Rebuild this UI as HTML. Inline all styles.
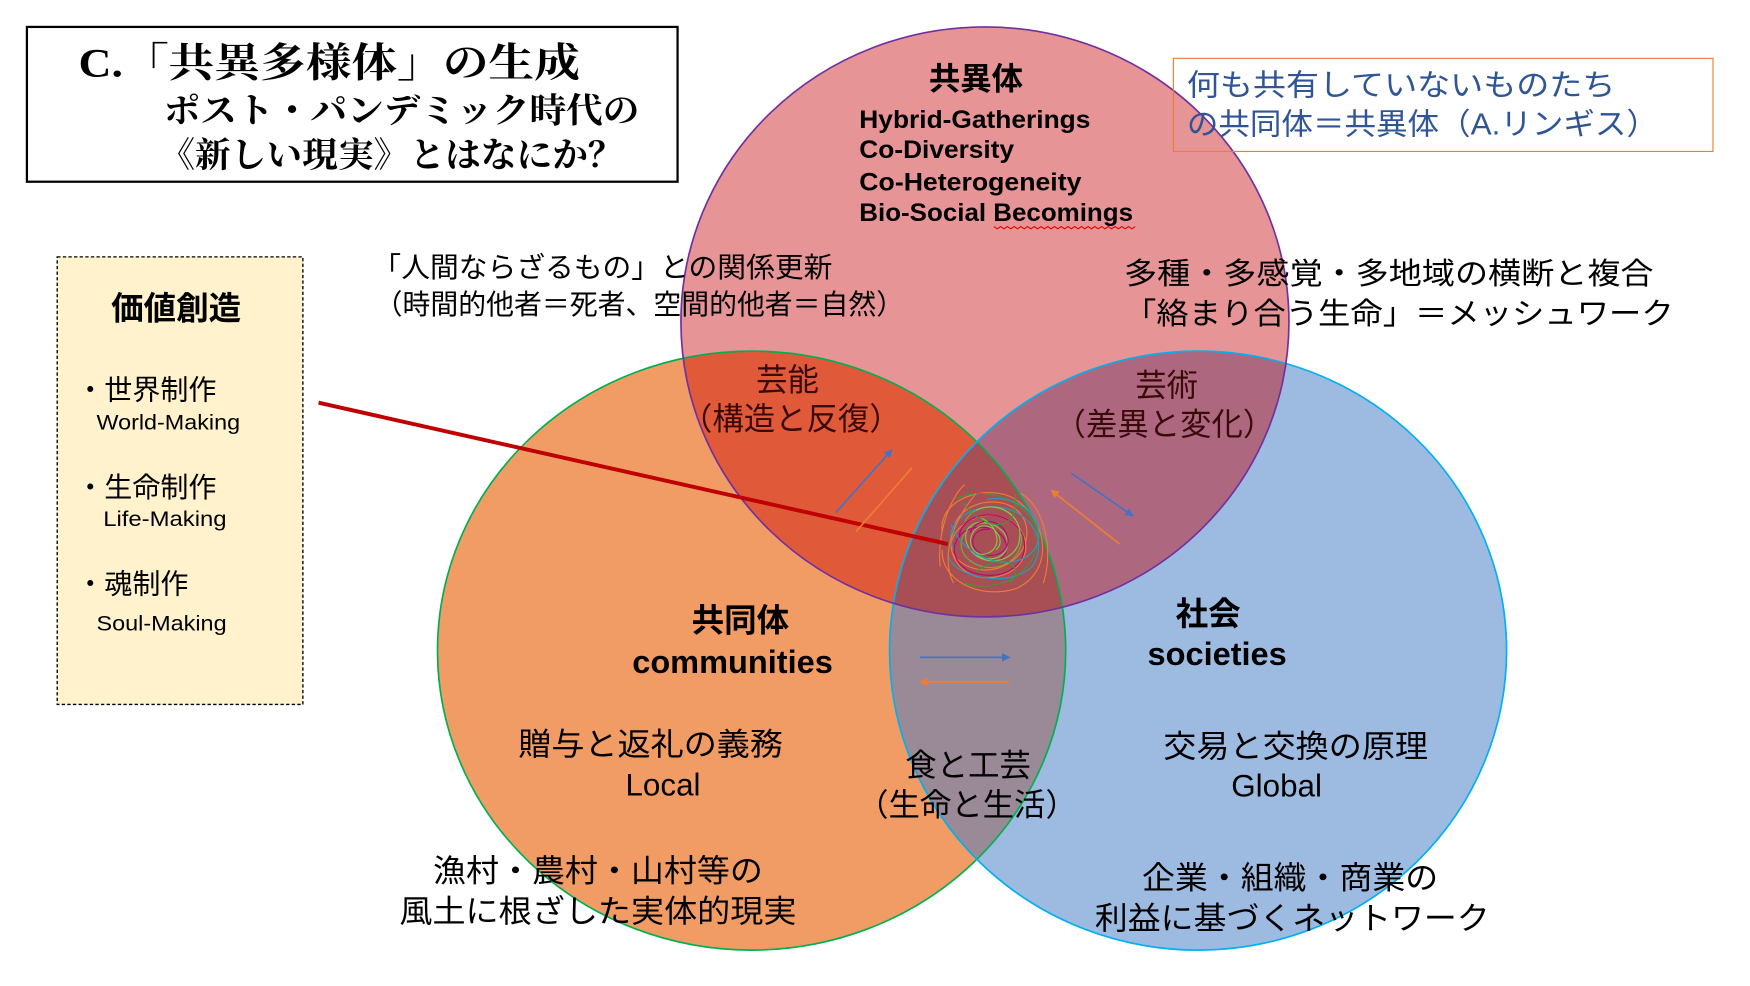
<!DOCTYPE html>
<html><head><meta charset="utf-8"><style>
html,body{margin:0;padding:0;background:#fff;}
svg{display:block;}
text{font-family:"Liberation Sans","Noto Sans CJK JP",sans-serif;}
</style></head><body>
<svg width="1750" height="986" viewBox="0 0 1560 879" preserveAspectRatio="none" xmlns="http://www.w3.org/2000/svg">
<defs>
<clipPath id="cT"><ellipse cx="878" cy="287" rx="271" ry="263"/></clipPath>
<clipPath id="cL"><ellipse cx="670" cy="580" rx="280" ry="267"/></clipPath>
<clipPath id="cR"><ellipse cx="1068" cy="580" rx="275" ry="267"/></clipPath>
<marker id="ab" viewBox="0 0 10 10" refX="9" refY="5" markerWidth="5" markerHeight="5" orient="auto"><path d="M0,0L10,5L0,10z" fill="#4472c4"/></marker>
<marker id="ao" viewBox="0 0 10 10" refX="9" refY="5" markerWidth="5" markerHeight="5" orient="auto"><path d="M0,0L10,5L0,10z" fill="#ed7d31"/></marker>
</defs>
<rect width="1560" height="879" fill="#fff"/>
<ellipse cx="670" cy="580" rx="280" ry="267" fill="#f29c65"/>
<ellipse cx="1068" cy="580" rx="275" ry="267" fill="#9dbae0"/>
<ellipse cx="878" cy="287" rx="271" ry="263" fill="#e69496"/>
<g clip-path="url(#cL)"><ellipse cx="1068" cy="580" rx="275" ry="267" fill="#9a8a97"/></g>
<g clip-path="url(#cT)"><ellipse cx="670" cy="580" rx="280" ry="267" fill="#e05a3a"/></g>
<g clip-path="url(#cT)"><ellipse cx="1068" cy="580" rx="275" ry="267" fill="#ad6880"/></g>
<g clip-path="url(#cT)"><g clip-path="url(#cL)"><ellipse cx="1068" cy="580" rx="275" ry="267" fill="#a84e55"/></g></g>
<ellipse cx="670" cy="580" rx="280" ry="267" fill="none" stroke="#00b050" stroke-width="1.5"/>
<ellipse cx="1068" cy="580" rx="275" ry="267" fill="none" stroke="#00b0f0" stroke-width="1.5"/>
<ellipse cx="878" cy="287" rx="271" ry="263" fill="none" stroke="#7030a0" stroke-width="1.5"/>

<g fill="none" stroke-width="1">
<path d="M850,470 C860,440 910,440 915,470 C920,500 880,520 855,500 C835,485 860,455 890,460 C915,465 925,495 900,510 C870,525 845,505 848,480" stroke="#ed7d31"/>
<path d="M860,465 C870,445 905,448 910,475 C915,500 885,515 865,500 C845,485 865,460 885,468 C905,475 900,500 880,498" stroke="#70ad47"/>
<path d="M855,480 C855,455 900,450 912,478 C920,505 890,522 862,508 C842,495 850,470 875,470 C895,470 905,490 890,500" stroke="#c00080"/>
<path d="M845,495 C850,515 900,525 920,505 C935,485 920,455 890,452 C860,450 840,470 850,490" stroke="#1fa0c0"/>
<path d="M840,475 C835,445 880,430 905,445 C935,465 940,510 905,525 C870,535 838,515 840,490" stroke="#ed7d31"/>
<path d="M870,455 C890,445 915,460 908,485 C900,505 870,505 862,485 C855,465 880,458 895,475 C905,490 890,505 870,495" stroke="#8bc34a"/>
<path d="M852,445 C880,430 925,450 925,480 C925,510 890,530 860,520" stroke="#3a9a3a"/>
<path d="M865,475 C868,462 892,460 898,478 C902,492 885,500 872,492 C862,485 868,470 882,472" stroke="#c00080"/>
<path d="M875,462 C890,468 895,490 878,494 C865,496 860,478 872,470 C885,464 898,482 888,490" stroke="#8bc34a"/>
<path d="M838,505 C835,470 850,440 860,432 M910,440 C930,450 940,490 930,520 M850,520 C840,500 845,470 870,440" stroke="#ed7d31"/>
<path d="M848,468 C860,500 905,512 922,490 C935,470 915,440 880,445" stroke="#1fa0c0"/>
<path d="M858,448 C885,480 910,470 905,440 M870,510 C895,490 915,505 900,520" stroke="#3a9a3a"/>
</g>

<line x1="284" y1="359" x2="845" y2="485" stroke="#c00000" stroke-width="3.5"/>

<line x1="745" y1="457" x2="795" y2="401" stroke="#4472c4" stroke-width="1.5" marker-end="url(#ab)"/>
<line x1="813" y1="417" x2="763" y2="474" stroke="#ed7d31" stroke-width="1.5"/>
<line x1="955" y1="422" x2="1010" y2="460" stroke="#4472c4" stroke-width="1.5" marker-end="url(#ab)"/>
<line x1="998" y1="485" x2="937" y2="437" stroke="#ed7d31" stroke-width="1.5" marker-end="url(#ao)"/>
<line x1="820" y1="586" x2="900" y2="586" stroke="#4472c4" stroke-width="1.5" marker-end="url(#ab)"/>
<line x1="900" y1="608" x2="820" y2="608" stroke="#ed7d31" stroke-width="1.5" marker-end="url(#ao)"/>

<rect x="24" y="24" width="580" height="138" fill="#fff" stroke="#000" stroke-width="2"/>
<text x="70" y="68" font-size="36" font-weight="bold" textLength="447" lengthAdjust="spacingAndGlyphs" style="font-family:'Liberation Serif','Noto Serif CJK SC',serif">C.「共異多様体」の生成</text>
<text x="146" y="109" font-size="31" font-weight="bold" textLength="424" lengthAdjust="spacingAndGlyphs" style="font-family:'Liberation Serif','Noto Serif CJK SC',serif">ポスト・パンデミック時代の</text>
<text x="142" y="149" font-size="31" font-weight="bold" textLength="414" lengthAdjust="spacingAndGlyphs" style="font-family:'Liberation Serif','Noto Serif CJK SC',serif">《新しい現実》とはなにか？</text>

<rect x="1046" y="52" width="481" height="83" fill="none" stroke="#ed7d31" stroke-width="1"/>
<text x="1058" y="85" font-size="27" fill="#2f5597" textLength="382" lengthAdjust="spacingAndGlyphs">何も共有していないものたち</text>
<text x="1058" y="120" font-size="27" fill="#2f5597" textLength="420" lengthAdjust="spacingAndGlyphs">の共同体＝共異体（A.リンギス）</text>

<text x="870" y="80" font-size="28" font-weight="bold" text-anchor="middle">共異体</text>
<g font-size="22" font-weight="bold">
<text x="766" y="114" textLength="206" lengthAdjust="spacingAndGlyphs">Hybrid-Gatherings</text>
<text x="766" y="141" textLength="138" lengthAdjust="spacingAndGlyphs">Co-Diversity</text>
<text x="766" y="170" textLength="198" lengthAdjust="spacingAndGlyphs">Co-Heterogeneity</text>
<text x="766" y="197" textLength="244" lengthAdjust="spacingAndGlyphs">Bio-Social Becomings</text>
</g>
<path d="M886,202 l3,2 3,-2 3,2 3,-2 3,2 3,-2 3,2 3,-2 3,2 3,-2 3,2 3,-2 3,2 3,-2 3,2 3,-2 3,2 3,-2 3,2 3,-2 3,2 3,-2 3,2 3,-2 3,2 3,-2 3,2 3,-2 3,2 3,-2 3,2 3,-2 3,2 3,-2 3,2 3,-2 3,2 3,-2 3,2 3,-2 3,2 3,-2" fill="none" stroke="#e00" stroke-width="1"/>

<g font-size="25">
<text x="332" y="247" textLength="410" lengthAdjust="spacingAndGlyphs">「人間ならざるもの」との関係更新</text>
<text x="334" y="280" textLength="472" lengthAdjust="spacingAndGlyphs">（時間的他者＝死者、空間的他者＝自然）</text>
</g>
<g font-size="27">
<text x="1002" y="253" textLength="472" lengthAdjust="spacingAndGlyphs">多種・多感覚・多地域の横断と複合</text>
<text x="1002" y="289" textLength="490" lengthAdjust="spacingAndGlyphs">「絡まり合う生命」＝メッシュワーク</text>
</g>

<rect x="51" y="229" width="219" height="399" fill="#fff2cc" stroke="#000" stroke-width="1.2" stroke-dasharray="3,2"/>
<text x="157" y="285" font-size="29" font-weight="bold" text-anchor="middle">価値創造</text>
<text x="68" y="356" font-size="25">・世界制作</text>
<text x="86" y="383" font-size="19" textLength="128" lengthAdjust="spacingAndGlyphs">World-Making</text>
<text x="68" y="443" font-size="25">・生命制作</text>
<text x="92" y="469" font-size="19" textLength="110" lengthAdjust="spacingAndGlyphs">Life-Making</text>
<text x="68" y="529" font-size="25">・魂制作</text>
<text x="86" y="562" font-size="19" textLength="116" lengthAdjust="spacingAndGlyphs">Soul-Making</text>

<g font-size="28" text-anchor="middle" fill="#3a0a0a">
<text x="702" y="348">芸能</text>
<text x="705" y="383">（構造と反復）</text>
<text x="1040" y="353">芸術</text>
<text x="1038" y="388">（差異と変化）</text>
</g>

<g font-size="29" font-weight="bold" text-anchor="middle">
<text x="660" y="563">共同体</text>
<text x="653" y="600">communities</text>
<text x="1077" y="557">社会</text>
<text x="1085" y="593">societies</text>
</g>

<g font-size="28" text-anchor="middle">
<text x="580" y="673" textLength="236" lengthAdjust="spacingAndGlyphs">贈与と返礼の義務</text>
<text x="591" y="709">Local</text>
<text x="863" y="692">食と工芸</text>
<text x="862" y="727">（生命と生活）</text>
<text x="1155" y="675" textLength="236" lengthAdjust="spacingAndGlyphs">交易と交換の原理</text>
<text x="1138" y="710">Global</text>
<text x="533" y="786" textLength="294" lengthAdjust="spacingAndGlyphs">漁村・農村・山村等の</text>
<text x="533" y="822" textLength="354" lengthAdjust="spacingAndGlyphs">風土に根ざした実体的現実</text>
<text x="1150" y="792" textLength="264" lengthAdjust="spacingAndGlyphs">企業・組織・商業の</text>
<text x="1152" y="828" textLength="352" lengthAdjust="spacingAndGlyphs">利益に基づくネットワーク</text>
</g>
</svg>
</body></html>
